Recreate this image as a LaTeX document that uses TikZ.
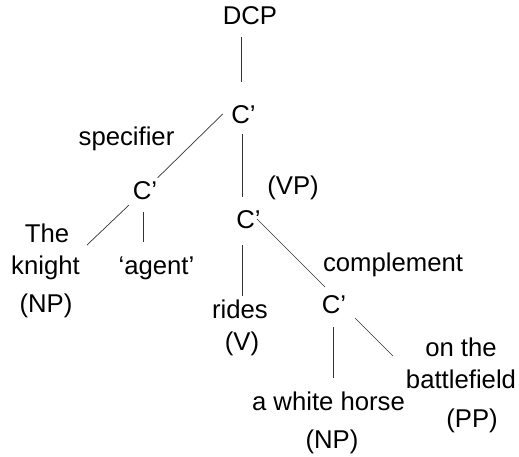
\documentclass[tikz,border=0pt]{standalone}
\usepackage{fontspec}
\setmainfont{Liberation Sans}
\usetikzlibrary{calc}
\begin{document}
\begin{tikzpicture}[x=1pt,y=-1pt,
  lbl/.style={anchor=base,inner sep=0pt,font=\fontsize{25.7}{30}\selectfont},
  branch/.style={line width=0.7pt,draw=black!80}]
\useasboundingbox (0,0) rectangle (519,456);

% category and word labels (placed by their baselines)
\node[lbl] (dcp)    at (250,24.5)  {DCP};
\node[lbl] (c1)     at (243.5,123) {C’};
\node[lbl] (spec)   at (126.5,145) {specifier};
\node[lbl] (c2)     at (145,199)   {C’};
\node[lbl] (vp)     at (293,194.5) {(VP)};
\node[lbl] (c3)     at (248.5,228) {C’};
\node[lbl] (the)    at (47,242)    {The};
\node[lbl] (knight) at (45.5,274)  {knight};
\node[lbl] (np1)    at (46,312)    {(NP)};
\node[lbl] (agent)  at (156.5,274) {‘agent’};
\node[lbl] (rides)  at (240,318)   {rides};
\node[lbl] (v)      at (242,350)   {(V)};
\node[lbl] (compl)  at (393,271)   {complement};
\node[lbl] (c4)     at (334,313)   {C’};
\node[lbl] (onthe)  at (461,356)   {on the};
\node[lbl] (field)  at (461,388)   {battlefield};
\node[lbl] (pp)     at (472,427)   {(PP)};
\node[lbl] (horse)  at (328.5,410) {a white horse};
\node[lbl] (np2)    at (332,448)   {(NP)};

% branches
\draw[branch] ($(dcp.base)+(-8.5,12.5)$) -- ($(c1.base)+(-2,-41)$);
\draw[branch] ($(c1.base)+(-20.8,-9)$)   -- ($(c2.base)+(12.7,-21.3)$);
\draw[branch] ($(c1.base)+(-1.5,11)$)    -- ($(c3.base)+(-6.5,-31)$);
\draw[branch] ($(c2.base)+(-16,6)$)      -- ($(the.base)+(40,3)$);
\draw[branch] ($(c2.base)+(-1.5,13)$)    -- ($(agent.base)+(-13,-32)$);
\draw[branch] ($(c3.base)+(8.5,-9)$)     -- ($(c4.base)+(-9,-26)$);
\draw[branch] ($(c3.base)+(-6.5,17)$)    -- ($(rides.base)+(2,-22)$);
\draw[branch] ($(c4.base)+(-1,14)$)      -- ($(horse.base)+(4.5,-32)$);
\draw[branch] ($(c4.base)+(21,5)$)       -- ($(onthe.base)+(-68,0)$);
\end{tikzpicture}
\end{document}
